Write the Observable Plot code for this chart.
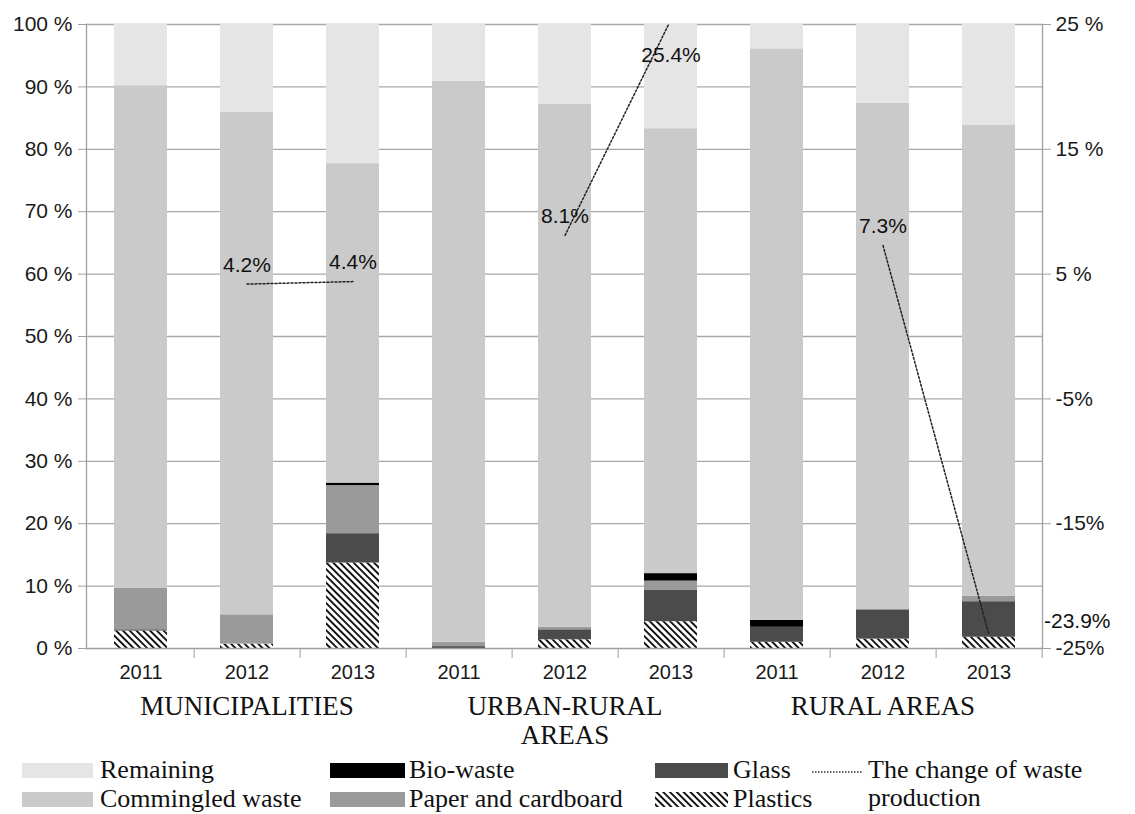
<!DOCTYPE html>
<html>
<head>
<meta charset="utf-8">
<script src="https://cdn.jsdelivr.net/npm/d3@7"></script>
<script src="https://cdn.jsdelivr.net/npm/@observablehq/plot@0.6"></script>
<style>
  body { margin: 0; background: #fff; }
  #wrap { position: relative; width: 1135px; height: 814px; overflow: hidden; }
  .lg { position: absolute; font-family: "Liberation Serif", "Times New Roman", serif; font-size: 26px; color: #111; line-height: 28px; white-space: nowrap; }
  .sw { position: absolute; }
</style>
</head>
<body>
<div id="wrap"></div>
<script>
// ---- data ----
const groups = ["MUNICIPALITIES", "URBAN-RURAL AREAS", "RURAL AREAS"];
const groupLabels = ["MUNICIPALITIES", "URBAN-RURAL\nAREAS", "RURAL AREAS"];
const years = ["2011", "2012", "2013"];
const types = ["Plastics", "Glass", "Paper and cardboard", "Bio-waste", "Commingled waste", "Remaining"];
// values in % per bar, order: group-major, then year
const plastics   = [2.8, 0.7, 13.7,  0.0, 1.4, 4.3,  1.0, 1.5, 1.8];
const glass      = [0.2, 0.0, 4.7,   0.3, 1.6, 5.0,  2.4, 4.7, 5.7];
const paper      = [6.7, 4.7, 7.7,   0.7, 0.4, 1.5,  0.0, 0.0, 0.9];
const bioWaste   = [0.0, 0.0, 0.4,   0.0, 0.0, 1.2,  1.1, 0.0, 0.0];
const commingled = [80.5, 80.5, 51.2, 89.9, 83.8, 71.3, 91.6, 81.2, 75.5];
const remaining  = [9.8, 14.1, 22.3,  9.1, 12.8, 16.7, 3.9, 12.6, 16.1];
// change of waste production (right axis), years 2012 and 2013 per group
const changeYears = ["2012", "2013"];
const changeMunicipalities = [4.2, 4.4];
const changeUrbanRural = [8.1, 25.4];
const changeRural = [7.3, -23.9];
const leftTicks = [0, 10, 20, 30, 40, 50, 60, 70, 80, 90, 100];
const rightTickValues = [-25, -15, -5, 5, 15, 25];
const rightTickLabels = ["-25%", "-15%", "-5%", "5 %", "15 %", "25 %"];

// ---- build tables ----
const key = (g, y) => g + "|" + y;
const keys = groups.flatMap(g => years.map(y => key(g, y)));
const series = [plastics, glass, paper, bioWaste, commingled, remaining];
const rows = [];
keys.forEach((k, i) => {
  types.forEach((t, j) => rows.push({key: k, type: t, value: series[j][i]}));
});
const changeSeries = [changeMunicipalities, changeUrbanRural, changeRural];
const changeRows = groups.flatMap((g, gi) => changeYears.map((y, yi) => ({group: g, key: key(g, y), value: changeSeries[gi][yi]})));
const toLeft = v => (v + 25) * 2; // map right-axis value (-25..25) onto 0..100
const groupRows = groups.map((g, i) => ({key: key(g, years[1]), label: groupLabels[i]}));

const colors = ["url(#hatch)", "#4b4b4b", "#9a9a9a", "#000000", "#cacaca", "#e5e5e5"];

const W = 1135, H = 755, mL = 86, mR = 93, mT = 24, mB = 107;
const step = (W - mL - mR) / keys.length;

const chart = Plot.plot({
  width: W, height: H,
  marginTop: mT, marginBottom: mB, marginLeft: mL, marginRight: mR,
  style: {fontFamily: "'Liberation Sans', Arial, sans-serif", fontSize: "21px", color: "#1a1a1a", background: "#fff", overflow: "visible"},
  x: {domain: keys, paddingInner: 0.5, paddingOuter: 0.25, axis: null},
  y: {domain: [0, 100], axis: null},
  color: {domain: types, range: colors},
  marks: [
    Plot.gridY(leftTicks.slice(1), {stroke: "#a8a8a8", strokeOpacity: 1, strokeWidth: 1.3}),
    Plot.barY(rows, {x: "key", y: "value", fill: "type", order: null}),
    Plot.ruleY([0], {stroke: "#a0a0a0", strokeWidth: 1.3}),
    Plot.frame({anchor: "left", stroke: "#a0a0a0", strokeWidth: 1.3}),
    Plot.frame({anchor: "right", stroke: "#a0a0a0", strokeWidth: 1.3}),
    Plot.axisY(leftTicks, {anchor: "left", tickSize: 8, tickPadding: 6, tickFormat: d => d + " %", stroke: "#a0a0a0", fill: "#1a1a1a", label: null, fontSize: 21}),
    Plot.axisY(rightTickValues.map(toLeft), {anchor: "right", tickSize: 8, tickPadding: 5,
      tickFormat: d => rightTickLabels[rightTickValues.indexOf(d / 2 - 25)], stroke: "#a0a0a0", fill: "#1a1a1a", label: null, fontSize: 21}),
    Plot.axisX({tickSize: 10, tickFormat: () => "", dx: step / 2, stroke: "#a0a0a0", label: null}),
    Plot.axisX({tickSize: 0, tickPadding: 16, tickFormat: k => k.split("|")[1], fill: "#1a1a1a", label: null, fontSize: 20}),
    Plot.text(groupRows, {x: "key", text: "label", frameAnchor: "bottom", lineAnchor: "top", dy: 45,
      fontFamily: "'Liberation Serif', 'Times New Roman', serif", fontSize: 27, lineHeight: 1.1, fill: "#111"}),
    Plot.line(changeRows, {x: "key", y: d => toLeft(d.value), z: "group", stroke: "#222", strokeWidth: 1.5, strokeDasharray: "2,2", clip: true}),
    Plot.text(changeRows.filter(d => Math.abs(d.value) < 20), {x: "key", y: d => toLeft(d.value), text: d => d.value + "%", dy: -19, fontSize: 21, fill: "#111"}),
    Plot.text(changeRows.filter(d => d.value >= 20), {x: "key", y: d => toLeft(d.value), text: d => d.value + "%", dy: 36, fontSize: 21, fill: "#111"}),
    Plot.text(changeRows.filter(d => d.value <= -20), {x: "key", y: d => toLeft(d.value), text: d => d.value + "%", dx: 55, dy: -14, textAnchor: "start", fontSize: 21, fill: "#111"})
  ]
});

const ns = "http://www.w3.org/2000/svg";
const patternMarkup = `<pattern id="hatch" patternUnits="userSpaceOnUse" width="4.8" height="4.8" patternTransform="rotate(-45)">
  <rect width="4.8" height="4.8" fill="#fff"></rect><rect x="0" y="0" width="1.9" height="4.8" fill="#111"></rect></pattern>`;
const defs = document.createElementNS(ns, "defs");
defs.innerHTML = patternMarkup;
chart.insertBefore(defs, chart.firstChild);

const wrap = document.getElementById("wrap");
wrap.appendChild(chart);

// ---- legend ----
const legendItems = [
  {label: "Remaining", kind: "Remaining", col: 0, row: 0},
  {label: "Commingled waste", kind: "Commingled waste", col: 0, row: 1},
  {label: "Bio-waste", kind: "Bio-waste", col: 1, row: 0},
  {label: "Paper and cardboard", kind: "Paper and cardboard", col: 1, row: 1},
  {label: "Glass", kind: "Glass", col: 2, row: 0},
  {label: "Plastics", kind: "Plastics", col: 2, row: 1},
  {label: "The change of waste<br>production", kind: "line", col: 3, row: 0}
];
const colX = [[22, 93, 100], [330, 405, 409], [655, 728, 733], [812, 862, 868]];
const rowY = [763, 792];
legendItems.forEach(it => {
  const [x0, x1, tx] = colX[it.col];
  const y0 = rowY[it.row];
  const sw = document.createElementNS(ns, "svg");
  sw.setAttribute("class", "sw");
  sw.setAttribute("width", x1 - x0);
  sw.setAttribute("height", 15);
  sw.style.left = x0 + "px";
  sw.style.top = y0 + "px";
  if (it.kind === "line") {
    sw.innerHTML = `<line x1="0" y1="9" x2="${x1 - x0}" y2="9" stroke="#333" stroke-width="1.3" stroke-dasharray="1.5,1.5"></line>`;
  } else {
    const c = colors[types.indexOf(it.kind)];
    sw.innerHTML = `<rect width="${x1 - x0}" height="15" fill="${c}"></rect>`;
  }
  wrap.appendChild(sw);
  const t = document.createElement("div");
  t.className = "lg";
  t.innerHTML = it.label;
  t.style.left = tx + "px";
  t.style.top = (y0 - 7) + "px";
  wrap.appendChild(t);
});
</script>
</body>
</html>
